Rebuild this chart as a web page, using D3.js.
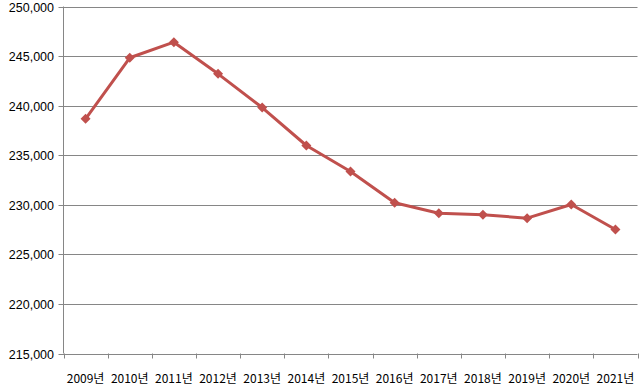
<!DOCTYPE html>
<html><head><meta charset="utf-8">
<script src="https://cdn.jsdelivr.net/npm/d3@7"></script>
<style>body{margin:0;background:#fff}svg{display:block}</style>
</head><body>
<svg id="c" width="644" height="389"></svg>
<script>
const categories = ["2009년","2010년","2011년","2012년","2013년","2014년","2015년","2016년","2017년","2018년","2019년","2020년","2021년"];
const values = [238670,244830,246400,243210,239810,235980,233360,230200,229150,228990,228650,230030,227510];
const yTicks = [215000,220000,225000,230000,235000,240000,245000,250000];

(function () {
const svg = d3.select("#c");
const pLeft = 63.5, pRight = 637.5, pTop = 6.5, pBottom = 353.5;
const x = d3.scaleBand().domain(categories).range([pLeft, pRight]);
const y = d3.scaleLinear().domain([215000, 250000]).range([pBottom, pTop]);
const font = "'Noto Sans CJK KR', 'Noto Sans', sans-serif";

svg.append("g").selectAll("line").data(yTicks).join("line")
  .attr("x1", pLeft - 5).attr("x2", pRight)
  .attr("y1", d => Math.round(y(d)) + 0.5).attr("y2", d => Math.round(y(d)) + 0.5)
  .attr("stroke", "#868686").attr("stroke-width", 1);

svg.append("line").attr("x1", pLeft).attr("x2", pLeft).attr("y1", pTop).attr("y2", pBottom)
  .attr("stroke", "#868686");

svg.append("g").selectAll("text").data(yTicks).join("text")
  .attr("x", 54).attr("y", d => y(d) + 5)
  .attr("text-anchor", "end").attr("font-family", "'Liberation Sans', Arial, sans-serif").attr("font-size", 12.5)
  .attr("fill", "#000").text(d => d3.format(",")(d));

const tickXs = categories.map(c => x(c)).concat([pRight]);
svg.append("g").selectAll("line").data(tickXs).join("line")
  .attr("x1", d => Math.round(d) + 0.5).attr("x2", d => Math.round(d) + 0.5)
  .attr("y1", pBottom).attr("y2", pBottom + 5)
  .attr("stroke", "#868686");

svg.append("g").selectAll("text").data(categories).join("text")
  .attr("x", d => x(d) + x.bandwidth() / 2).attr("y", 383)
  .attr("text-anchor", "middle").attr("font-family", font).attr("font-size", 12)
  .attr("fill", "#000").text(d => d);

const line = d3.line().x((d, i) => x(categories[i]) + x.bandwidth() / 2).y(d => y(d));
svg.append("path").datum(values).attr("d", line)
  .attr("fill", "none").attr("stroke", "#C0504D").attr("stroke-width", 3)
  .attr("stroke-linejoin", "round");

svg.append("g").selectAll("path").data(values).join("path")
  .attr("transform", (d, i) => `translate(${x(categories[i]) + x.bandwidth() / 2},${y(d)})`)
  .attr("d", "M0,-5 L5,0 L0,5 L-5,0 Z")
  .attr("fill", "#C0504D");
})();
</script>
</body></html>
